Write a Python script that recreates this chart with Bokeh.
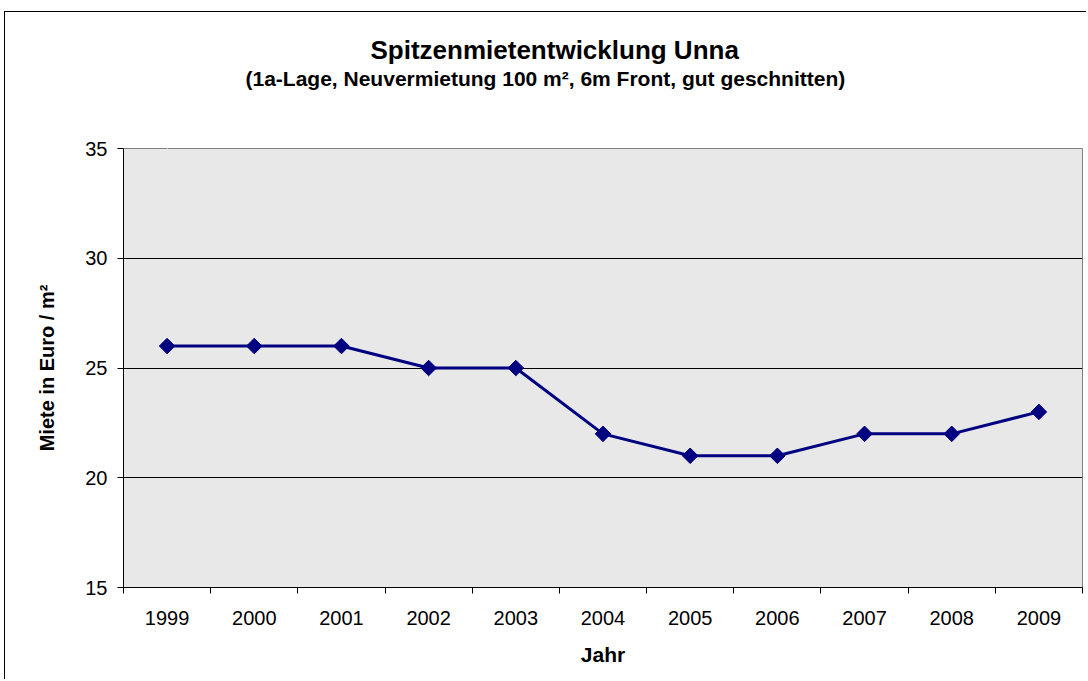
from bokeh.plotting import figure
from bokeh.models import Title, FixedTicker, Range1d, LinearAxis
from bokeh.embed import file_html
from bokeh.resources import INLINE

years = ["1999", "2000", "2001", "2002", "2003", "2004", "2005", "2006", "2007", "2008", "2009"]
rent = [26, 26, 26, 25, 25, 22, 21, 21, 22, 22, 23]
y_ticks = [15, 20, 25, 30, 35]
grid_ticks = [20, 25, 30]

title_text = "Spitzenmietentwicklung Unna"
subtitle_text = "(1a-Lage, Neuvermietung 100 m², 6m Front, gut geschnitten)"
x_label = "Jahr"
y_label = "Miete in Euro / m²"

FONT = "Liberation Sans"
idx = list(range(len(years)))

p = figure(width=1082, height=668, output_backend="svg", toolbar_location=None,
           x_range=Range1d(-0.5, len(years) - 0.5), y_range=Range1d(15, 35),
           min_border_left=118, min_border_right=5, min_border_top=136, min_border_bottom=93)
p.styles = {"margin-left": "4px", "margin-top": "11px",
            "border-left": "1px solid #000", "border-top": "1px solid #000"}

p.background_fill_color = "#e8e8e8"
p.border_fill_color = "white"
p.outline_line_color = "#808080"
p.outline_line_width = 1

# x axis
xa = p.xaxis[0]
xa.ticker = FixedTicker(ticks=idx, minor_ticks=[i - 0.5 for i in idx] + [len(years) - 0.5])
xa.major_label_overrides = {i: y for i, y in zip(idx, years)}
xa.major_tick_out = 0
xa.major_tick_in = 0
xa.minor_tick_out = 6
xa.minor_tick_in = 0
xa.minor_tick_line_color = "black"
xa.axis_line_color = "black"
xa.major_label_text_font = FONT
xa.major_label_text_font_size = "20px"
xa.major_label_text_color = "black"
xa.major_label_standoff = 17
xa.axis_label = x_label
xa.axis_label_text_font = FONT
xa.axis_label_text_font_size = "21px"
xa.axis_label_text_font_style = "bold"
xa.axis_label_text_color = "black"
xa.axis_label_standoff = 15

# y axis
ya = p.yaxis[0]
ya.ticker = FixedTicker(ticks=y_ticks)
ya.major_tick_out = 6
ya.major_tick_in = 0
ya.minor_tick_line_color = None
ya.axis_line_color = "black"
ya.major_tick_line_color = "black"
ya.major_label_text_font = FONT
ya.major_label_text_font_size = "20px"
ya.major_label_text_color = "black"
ya.major_label_standoff = 10
ya.axis_label = y_label
ya.axis_label_text_font = FONT
ya.axis_label_text_font_size = "20px"
ya.axis_label_text_font_style = "bold"
ya.axis_label_text_color = "black"
ya.axis_label_standoff = 24

p.xgrid.grid_line_color = None
p.ygrid.ticker = FixedTicker(ticks=grid_ticks)
p.ygrid.grid_line_color = "black"
p.ygrid.grid_line_width = 1

p.line(idx, rent, line_color="#000080", line_width=3)
p.scatter(idx, rent, marker="square", size=11, angle=0.7853981634,
          fill_color="#000080", line_color="#000080")

# spacing between subtitle and plot area (invisible white tick, no label)
spacer = LinearAxis(ticker=FixedTicker(ticks=[0], minor_ticks=[]), axis_line_color=None,
                    major_tick_line_color="white", minor_tick_line_color=None,
                    major_tick_out=59, major_tick_in=0, major_label_standoff=0,
                    major_label_overrides={0: ""}, major_label_text_font_size="0px")
p.add_layout(spacer, "above")

sub = Title(text=subtitle_text, text_font=FONT, text_font_size="21px", text_font_style="bold",
            text_color="black", align="left", offset=122, standoff=0)
main = Title(text=title_text, text_font=FONT, text_font_size="26px", text_font_style="bold",
             text_color="black", align="left", offset=247, standoff=0)
p.add_layout(sub, "above")
p.add_layout(main, "above")

open("out.html", "w").write(file_html(p, INLINE))
